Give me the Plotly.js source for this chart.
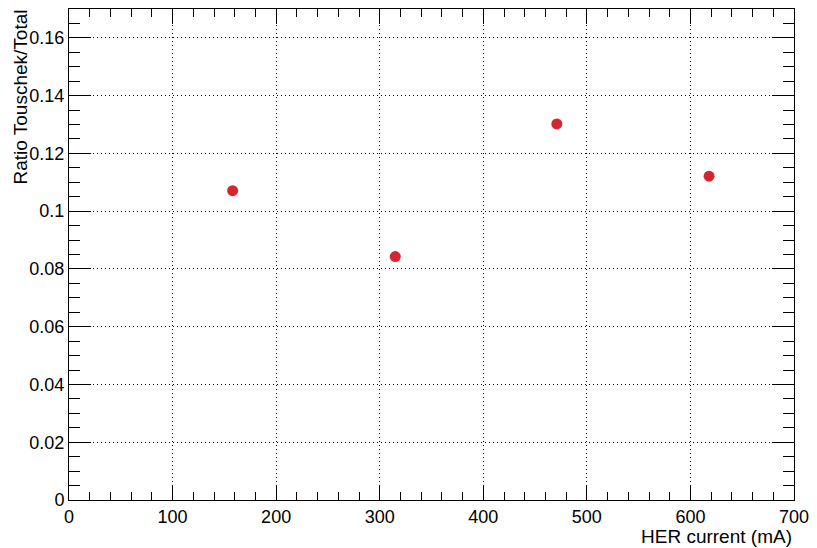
<!DOCTYPE html>
<html>
<head>
<meta charset="utf-8">
<script src="https://cdn.plot.ly/plotly-3.0.1.min.js"></script>
<style>html,body{margin:0;padding:0;background:#fff;}#chart{width:817px;height:548px;}</style>
</head>
<body>
<div id="chart"></div>
<script>
const herCurrent = [158, 315, 471, 618];
const ratioTouschek = [0.1071, 0.0843, 0.1302, 0.1121];
const xTitle = "HER current (mA)";
const yTitle = "Ratio Touschek/Total";

const font = "Liberation Sans, Arial, Helvetica, sans-serif";

const trace = {
  x: herCurrent,
  y: ratioTouschek,
  type: "scatter",
  mode: "markers",
  marker: {color: "rgb(213,38,48)", size: 11, symbol: "circle"},
  hoverinfo: "x+y"
};

const layout = {
  width: 817, height: 548,
  margin: {l: 69, r: 23, t: 9, b: 48},
  paper_bgcolor: "#fff", plot_bgcolor: "#fff",
  showlegend: false,
  font: {family: font, size: 18, color: "#000"},
  xaxis: {
    range: [0, 700], dtick: 100, tick0: 0,
    ticks: "inside", ticklen: 15, tickwidth: 1, tickcolor: "#000",
    showline: true, linecolor: "#000", linewidth: 1, mirror: "ticks",
    showgrid: true, gridcolor: "#000", griddash: "1px,3px", gridwidth: 1,
    zeroline: false,
    tickfont: {family: font, size: 18, color: "#000"},
    minor: {dtick: 20, tick0: 0, ticks: "inside", ticklen: 8, tickcolor: "#000", showgrid: false}
  },
  yaxis: {
    range: [0, 0.17], dtick: 0.02, tick0: 0,
    ticks: "inside", ticklen: 22, tickwidth: 1, tickcolor: "#000",
    showline: true, linecolor: "#000", linewidth: 1, mirror: "ticks",
    showgrid: true, gridcolor: "#000", griddash: "1px,3px", gridwidth: 1,
    zeroline: false,
    tickformat: "~g",
    tickfont: {family: font, size: 18, color: "#000"},
    minor: {dtick: 0.005, tick0: 0, ticks: "inside", ticklen: 11, tickcolor: "#000", showgrid: false}
  },
  annotations: [
    {text: xTitle, xref: "paper", yref: "paper", x: 1, y: 0, xanchor: "right", yanchor: "top",
     yshift: -24, showarrow: false, font: {family: font, size: 19, color: "#000"}},
    {text: yTitle, xref: "paper", yref: "paper", x: 0, y: 1, xanchor: "center", yanchor: "top",
     xshift: -49, yshift: 1, textangle: -90, showarrow: false, font: {family: font, size: 19, color: "#000"}}
  ]
};

Plotly.newPlot("chart", [trace], layout, {displayModeBar: false, staticPlot: true});
</script>
</body>
</html>
